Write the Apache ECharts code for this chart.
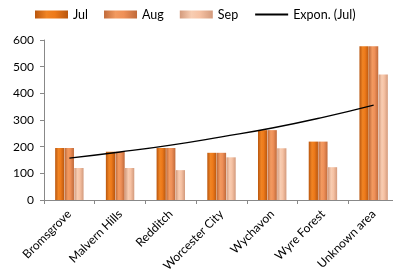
<!doctype html>
<html>
<head>
  <meta charset="utf-8">
  <title></title>
  <script src="https://cdn.jsdelivr.net/npm/echarts@6/dist/echarts.min.js"></script>
  <style>
    html, body { margin: 0; padding: 0; background: #FFFFFF; overflow: hidden; }
    #chart { width: 393px; height: 274px; }
  </style>
</head>
<body>
  <div id="chart"></div>
  <script type="text/javascript">
    // districts
    var categories = ['Bromsgrove', 'Malvern Hills', 'Redditch', 'Worcester City', 'Wychavon', 'Wyre Forest', 'Unknown area'];
    var julValues = [195, 181, 195, 177, 262, 219, 577];
    var augValues = [195, 181, 195, 177, 262, 219, 577];
    var sepValues = [120, 120, 112, 160, 194, 123, 471];
    // trendline
    var trendValues = [157, 180, 206, 237, 270, 310, 356];
    var yTicks = [0, 100, 200, 300, 400, 500, 600];

    var font = 'Lato, "Open Sans", sans-serif';

    function barGrad(edge, mid, light) {
      return new echarts.graphic.LinearGradient(0, 0, 1, 0, [
        { offset: 0, color: edge },
        { offset: 0.35, color: mid },
        { offset: 0.6, color: light },
        { offset: 1, color: edge }
      ]);
    }

    function barSeries(name, data, color) {
      return {
        name: name,
        type: 'bar',
        data: data,
        barGap: '4%',
        barCategoryGap: '44%',
        itemStyle: { color: color },
        z: 2
      };
    }

    var myChart = echarts.init(document.getElementById('chart'));
    myChart.setOption({
      animation: false,
      textStyle: { fontFamily: font },
      legend: {
        left: 35,
        top: 8,
        padding: 0,
        itemWidth: 33,
        itemHeight: 8,
        itemGap: 16,
        textStyle: { fontFamily: font, fontSize: 12.5, color: '#000' },
        data: [
          { name: 'Jul', icon: 'rect' },
          { name: 'Aug', icon: 'rect' },
          { name: 'Sep', icon: 'rect' },
          { name: 'Expon. (Jul)', itemStyle: { opacity: 0 } }
        ]
      },
      // plot runs a few px past the right edge, as in the original
      grid: { left: 44, right: -6, top: 40, bottom: 74, outerBoundsMode: 'none', containLabel: false },
      xAxis: {
        type: 'category',
        data: categories,
        axisLine: { lineStyle: { color: '#888', width: 1 } },
        axisTick: { show: true, length: 4, lineStyle: { color: '#888' } },
        axisLabel: { rotate: 45, fontSize: 12, color: '#000', margin: 12, interval: 0 }
      },
      yAxis: {
        type: 'value',
        min: yTicks[0],
        max: yTicks[yTicks.length - 1],
        interval: 100,
        splitLine: { show: false },
        axisLine: { show: true, lineStyle: { color: '#888', width: 1 } },
        axisTick: { show: true, length: 4, lineStyle: { color: '#888' } },
        axisLabel: { fontSize: 12, color: '#000', margin: 10 }
      },
      series: [
        barSeries('Jul', julValues, barGrad('#B9560E', '#F08424', '#EE7A1A')),
        barSeries('Aug', augValues, barGrad('#C06A3A', '#F29A60', '#EF9058')),
        barSeries('Sep', sepValues, barGrad('#D39A7C', '#F8CDB2', '#F6C2A4')),
        {
          name: 'Expon. (Jul)',
          type: 'line',
          data: trendValues,
          smooth: true,
          symbol: 'none',
          lineStyle: { color: '#000', width: 1.3 },
          itemStyle: { color: '#000' },
          z: 5
        }
      ]
    });
  </script>
</body>
</html>
